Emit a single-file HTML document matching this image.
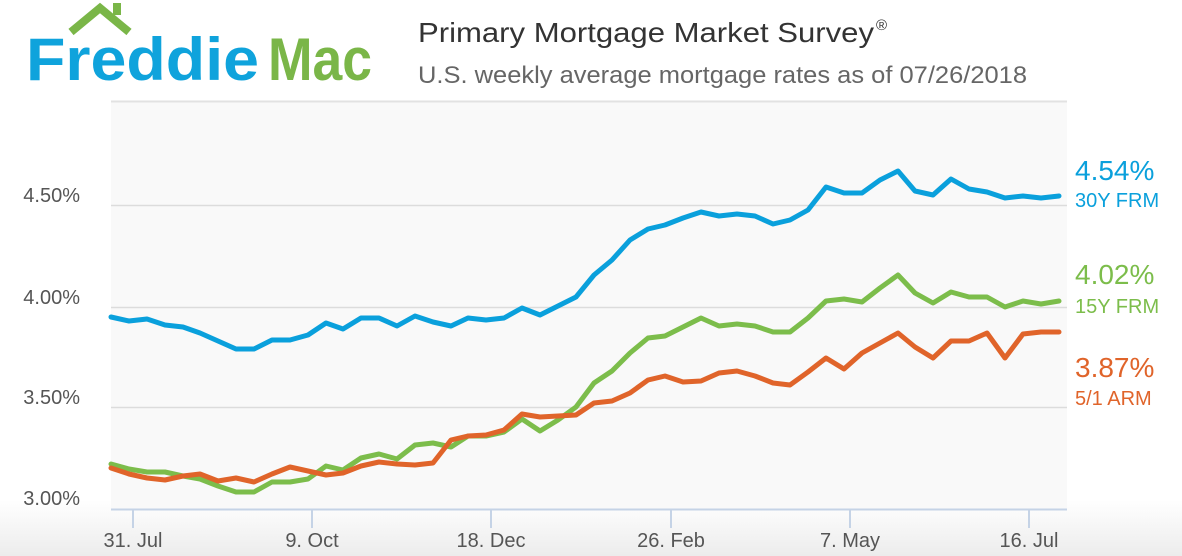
<!DOCTYPE html>
<html><head><meta charset="utf-8"><style>
html,body{margin:0;padding:0;background:#fff;}
svg{display:block;font-family:"Liberation Sans",sans-serif;}
</style></head><body>
<svg width="1182" height="556" viewBox="0 0 1182 556" xmlns="http://www.w3.org/2000/svg">
<defs><linearGradient id="bg" x1="0" y1="0" x2="0" y2="1"><stop offset="0" stop-color="#ffffff"/><stop offset="1" stop-color="#ececec"/></linearGradient></defs>
<rect x="0" y="0" width="1182" height="556" fill="#fff"/>
<rect x="0" y="500" width="1182" height="56" fill="url(#bg)"/>
<rect x="111" y="101" width="956" height="408" fill="#f9f9f9"/>
<line x1="111" y1="101.5" x2="1067" y2="101.5" stroke="#e2e2e2" stroke-width="2"/>
<!-- logo -->
<polyline points="71,32 100,8 129,32" fill="none" stroke="#7ab648" stroke-width="8"/>
<rect x="113" y="3" width="8" height="12" fill="#7ab648"/>
<text x="26" y="80" font-size="60" fill="#0fa3dc" textLength="233" lengthAdjust="spacingAndGlyphs" style="font-weight:600">Freddie</text>
<text x="268" y="80" font-size="60" fill="#7ab648" textLength="104" lengthAdjust="spacingAndGlyphs" style="font-weight:600">Mac</text>
<!-- titles -->
<text x="418" y="42" font-size="28" fill="#333" textLength="456" lengthAdjust="spacingAndGlyphs">Primary Mortgage Market Survey</text>
<text x="876" y="30" font-size="15" fill="#333">®</text>
<text x="418" y="83" font-size="24" fill="#666" textLength="609" lengthAdjust="spacingAndGlyphs">U.S. weekly average mortgage rates as of 07/26/2018</text>
<!-- grid -->
<g stroke="#dcdcdc" stroke-width="1.5">
<line x1="111" y1="205.5" x2="1067" y2="205.5"/>
<line x1="111" y1="307.5" x2="1067" y2="307.5"/>
<line x1="111" y1="407.5" x2="1067" y2="407.5"/>
</g>
<line x1="111" y1="509.5" x2="1067" y2="509.5" stroke="#c5d3e6" stroke-width="2"/>
<g stroke="#c5d3e6" stroke-width="2">
<line x1="133" y1="510" x2="133" y2="528"/><line x1="312" y1="510" x2="312" y2="528"/>
<line x1="491" y1="510" x2="491" y2="528"/><line x1="671" y1="510" x2="671" y2="528"/>
<line x1="850" y1="510" x2="850" y2="528"/><line x1="1029" y1="510" x2="1029" y2="528"/>
</g>
<g font-size="20" fill="#555" text-anchor="end">
<text x="80" y="202">4.50%</text><text x="80" y="304">4.00%</text>
<text x="80" y="404">3.50%</text><text x="80" y="505">3.00%</text>
</g>
<g font-size="20" fill="#555" text-anchor="middle">
<text x="133" y="547">31. Jul</text><text x="312" y="547">9. Oct</text>
<text x="491" y="547">18. Dec</text><text x="671" y="547">26. Feb</text>
<text x="850" y="547">7. May</text><text x="1029" y="547">16. Jul</text>
</g>
<g fill="none" stroke-width="5" stroke-linejoin="round" stroke-linecap="round">
<polyline stroke="#0aa0dc" points="111,317 129,321 147,319 165,325 183,327 200,333 218,341 236,349 254,349 272,340 290,340 308,335 326,323 343,329 361,318 379,318 397,326 415,316 433,322 451,326 468,318 486,320 504,318 522,308 540,315 558,306 576,297 594,275 612,260 630,240 648,229 665,225 683,218 701,212 719,216 737,214 755,216 773,224 790,220 808,210 826,187 844,193 862,193 880,180 898,171 915,191 933,195 951,179 969,189 987,192 1005,198 1023,196 1041,198 1059,196"/>
<polyline stroke="#7cbd4b" points="111,464 129,469 147,472 165,472 183,476 200,479 218,486 236,492 254,492 272,482 290,482 308,479 326,466 343,470 361,458 379,454 397,459 415,445 433,443 451,447 468,436 486,436 504,432 522,419 540,431 558,420 576,407 594,383 612,371 630,353 648,338 665,336 683,327 701,318 719,326 737,324 755,326 773,332 790,332 808,318 826,301 844,299 862,302 880,288 898,275 915,293 933,303 951,292 969,297 987,297 1005,307 1023,301 1041,304 1059,301"/>
<polyline stroke="#e0642a" points="111,468 129,474 147,478 165,480 183,476 200,474 218,481 236,478 254,482 272,474 290,467 308,471 326,475 343,473 361,466 379,462 397,464 415,465 433,463 451,440 468,436 486,435 504,430 522,414 540,417 558,416 576,415 594,403 612,401 630,393 648,380 665,376 683,382 701,381 719,373 737,371 755,376 773,383 790,385 808,372 826,358 844,369 862,353 880,343 898,333 915,347 933,358 951,341 969,341 987,333 1005,358 1023,334 1041,332 1059,332"/>
</g>
<text x="1075" y="180" font-size="28" fill="#0aa0dc">4.54%</text>
<text x="1075" y="207" font-size="20" fill="#0aa0dc">30Y FRM</text>
<text x="1075" y="284" font-size="28" fill="#7cbd4b">4.02%</text>
<text x="1075" y="313" font-size="20" fill="#7cbd4b">15Y FRM</text>
<text x="1075" y="377" font-size="28" fill="#e0642a">3.87%</text>
<text x="1075" y="405" font-size="20" fill="#e0642a">5/1 ARM</text>
</svg>
</body></html>
